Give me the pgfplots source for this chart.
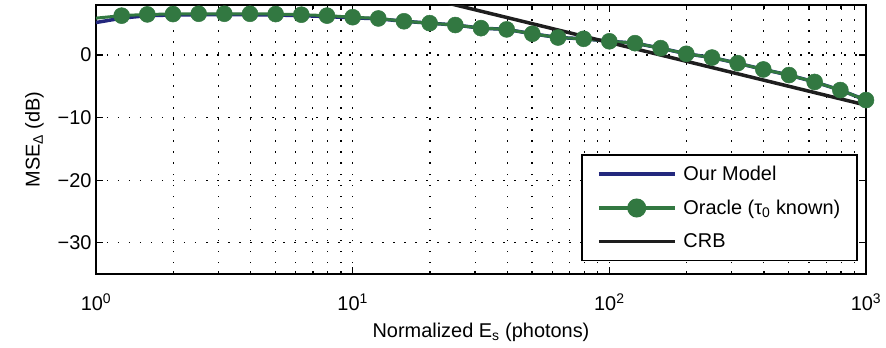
\documentclass[border=0pt]{standalone}
\usepackage{fontspec}
\setmainfont{Liberation Sans}
\usepackage{pgfplots}
\pgfplotsset{compat=1.18}
\definecolor{mblue}{RGB}{35,40,125}
\definecolor{mgreen}{RGB}{50,120,65}
\definecolor{mblack}{RGB}{30,30,30}
\pgfplotstableread{
x y
1 5.9
1.2589 6.3
}\oraclestart
\pgfplotstableread{
x y
1.2589 6.3
1.5849 6.5
1.9953 6.55
2.5119 6.6
3.1623 6.6
3.9811 6.6
5.0119 6.55
6.3096 6.45
7.9433 6.3
10 6.05
12.589 5.85
15.849 5.4
19.953 5.1
25.119 4.8
31.623 4.3
39.811 4.1
50.119 3.4
63.096 2.8
79.433 2.6
100 2.2
125.89 1.9
158.49 1.1
199.53 0.2
251.19 -0.4
316.23 -1.3
398.11 -2.3
501.19 -3.2
630.96 -4.3
794.33 -5.6
1000 -7.2
}\oracle
\pgfplotstableread{
x y
1 5.2
1.2589 5.9
1.5849 6.3
1.9953 6.4
2.5119 6.45
3.1623 6.45
3.9811 6.45
5.0119 6.4
6.3096 6.3
7.9433 6.15
10 5.95
12.589 5.8
15.849 5.4
19.953 5.1
25.119 4.8
31.623 4.3
39.811 4.1
50.119 3.4
63.096 2.8
79.433 2.6
100 2.2
125.89 1.9
158.49 1.1
199.53 0.2
251.19 -0.4
316.23 -1.3
398.11 -2.3
501.19 -3.2
630.96 -4.3
794.33 -5.6
1000 -7.2
}\ourmodel
\pgfplotstableread{
x y
20 9
1000 -8
}\crb
\begin{document}
\begin{tikzpicture}
\path[use as bounding box] (-96bp,-74bp) rectangle (790bp,274bp);
\begin{axis}[
  at={(0,0)}, anchor=south west,
  scale only axis, width=770bp, height=269bp,
  xmode=log, log basis x=10,
  xmin=1, xmax=1000, ymin=-35, ymax=8,
  xtick={1,10,100,1000},
  minor xtick={2,3,4,5,6,7,8,9,20,30,40,50,60,70,80,90,200,300,400,500,600,700,800,900},
  xticklabels={{10\textsuperscript{0}},{10\textsuperscript{1}},{10\textsuperscript{2}},{10\textsuperscript{3}}},
  ytick={-30,-20,-10,0},
  yticklabels={{−30},{−20},{−10},{0}},
  minor ytick={},
  grid=both,
  major grid style={black, line width=1.2bp, dash pattern=on 1.5bp off 9.5bp},
  minor grid style={black, line width=1.2bp, dash pattern=on 1.5bp off 9.5bp},
  tick align=inside,
  major tick length=7bp, minor tick length=3.5bp,
  every tick/.style={black, line width=1.3bp},
  axis line style={black, line width=2bp},
  font=\fontsize{20}{24}\selectfont,
  xticklabel style={yshift=-16bp},
  yticklabel style={xshift=-1bp},
  xlabel={Normalized E\textsubscript{s} (photons)},
  ylabel={MSE\textsubscript{Δ} (dB)},
  xlabel style={yshift=-5bp},
  ylabel style={yshift=7bp},
  clip=true,
  legend cell align=left,
  legend style={at={(0.9896,0.048)}, anchor=south east, draw=black, line width=1.5bp,
    font=\fontsize{20}{24}\selectfont, row sep=14bp, inner xsep=15bp, inner ysep=9bp,
    /tikz/every odd column/.append style={column sep=5bp}},
  legend image code/.code={\draw[#1] (0bp,0bp) -- (76bp,0bp);},
]
\addplot[mblue, line width=3.5bp, no markers] table {\ourmodel};
\addlegendentry{Our Model}
\addplot[mgreen, line width=3bp, no markers, forget plot] table {\oraclestart};
\addplot[mgreen, line width=3bp, mark=*, mark size=8bp, mark options={fill=mgreen, draw=mgreen, line width=0.5bp},
  legend image code/.code={\draw[mgreen, line width=3.5bp] (0bp,0bp) -- (76bp,0bp); \fill[mgreen] (38bp,0bp) circle (8bp);}] table {\oracle};
\addlegendentry{Oracle (τ\textsubscript{0} known)}
\addplot[mblack, line width=3.5bp, no markers] table {\crb};
\addlegendentry{CRB}
\end{axis}
\end{tikzpicture}
\end{document}
